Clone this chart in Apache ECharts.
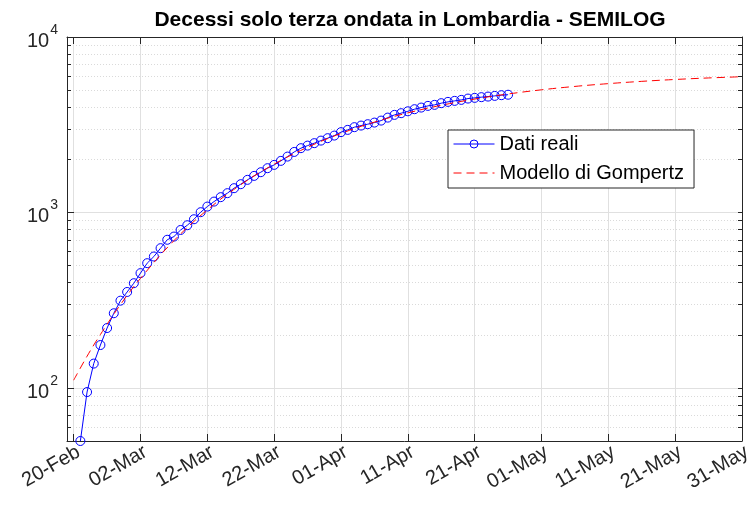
<!DOCTYPE html>
<html>
<head>
<meta charset="utf-8">
<title>Decessi solo terza ondata in Lombardia - SEMILOG</title>
<script src="https://cdn.jsdelivr.net/npm/echarts@6/dist/echarts.min.js"></script>
<style>
  html, body { margin: 0; padding: 0; background: #fff; }
  #chart { width: 755px; height: 507px; }
</style>
</head>
<body>
<div id="chart"></div>
<script>
// dati reali: decessi cumulati, un punto al giorno
const dates = [
  '2021-02-21', '2021-02-22', '2021-02-23', '2021-02-24', '2021-02-25', '2021-02-26', '2021-02-27', '2021-02-28',
  '2021-03-01', '2021-03-02', '2021-03-03', '2021-03-04', '2021-03-05', '2021-03-06', '2021-03-07', '2021-03-08',
  '2021-03-09', '2021-03-10', '2021-03-11', '2021-03-12', '2021-03-13', '2021-03-14', '2021-03-15', '2021-03-16',
  '2021-03-17', '2021-03-18', '2021-03-19', '2021-03-20', '2021-03-21', '2021-03-22', '2021-03-23', '2021-03-24',
  '2021-03-25', '2021-03-26', '2021-03-27', '2021-03-28', '2021-03-29', '2021-03-30', '2021-03-31',
  '2021-04-01', '2021-04-02', '2021-04-03', '2021-04-04', '2021-04-05', '2021-04-06', '2021-04-07', '2021-04-08',
  '2021-04-09', '2021-04-10', '2021-04-11', '2021-04-12', '2021-04-13', '2021-04-14', '2021-04-15', '2021-04-16',
  '2021-04-17', '2021-04-18', '2021-04-19', '2021-04-20', '2021-04-21', '2021-04-22', '2021-04-23', '2021-04-24',
  '2021-04-25', '2021-04-26'
];
const deaths = [
  50, 95, 138, 176, 220, 267, 315, 353,
  396, 452, 515, 562, 627, 700, 730, 796,
  847, 916, 1005, 1082, 1155, 1224, 1290, 1377,
  1451, 1536, 1618, 1698, 1790, 1869, 1970, 2084,
  2215, 2327, 2407, 2485, 2570, 2653, 2745,
  2871, 2958, 3065, 3130, 3187, 3255, 3341, 3475,
  3601, 3682, 3775, 3880, 3963, 4052, 4106, 4198,
  4270, 4327, 4384, 4460, 4501, 4543, 4578, 4620,
  4663, 4690
];

const modelDates = [
  '2021-02-20', '2021-02-22', '2021-02-24', '2021-02-27', '2021-03-02', '2021-03-07', '2021-03-12',
  '2021-03-17', '2021-03-22', '2021-03-27', '2021-04-01', '2021-04-06', '2021-04-11', '2021-04-16',
  '2021-04-21', '2021-04-26', '2021-05-01', '2021-05-06', '2021-05-11', '2021-05-16', '2021-05-21',
  '2021-05-26', '2021-05-31'
];
const modelValues = [
  111, 152, 202, 299, 422, 692, 1036,
  1441, 1887, 2355, 2823, 3275, 3697, 4084,
  4430, 4736, 5002, 5231, 5425, 5590, 5729,
  5845, 5940
];

// assi
const xTicks = [
  '2021-02-20', '2021-03-02', '2021-03-12', '2021-03-22', '2021-04-01', '2021-04-11',
  '2021-04-21', '2021-05-01', '2021-05-11', '2021-05-21', '2021-05-31'
];
const xMin = '2021-02-19';
const xMax = '2021-05-31';
const yMin = 50;
const yMax = 10000;
const yMajor = [100, 1000, 10000];
const yMinor = [60, 70, 80, 90, 200, 300, 400, 500, 600, 700, 800, 900,
  2000, 3000, 4000, 5000, 6000, 7000, 8000, 9000];

const FONT = 'Liberation Sans, Arial, Helvetica, sans-serif';
const AXIS = '#262626';

const chart = echarts.init(document.getElementById('chart'));

const logMin = Math.log10(yMin);
const logMax = Math.log10(yMax);

function yLabel(v) {
  const e = Math.log10(v);
  if (Math.abs(e - Math.round(e)) > 1e-6) return '';
  return '{b|10}{s|' + Math.round(e) + '}';
}

const option = {
  animation: false,
  backgroundColor: '#fff',
  title: {
    text: 'Decessi solo terza ondata in Lombardia - SEMILOG',
    left: 405,
    top: 5,
    textAlign: 'center',
    textStyle: { fontFamily: FONT, fontSize: 21, fontWeight: 'bold', color: '#000' }
  },
  legend: {
    orient: 'vertical',
    left: 448,
    top: 130,
    padding: [4, 10, 5, 5],
    itemGap: 9,
    itemWidth: 41,
    itemHeight: 10,
    backgroundColor: '#fff',
    borderColor: AXIS,
    borderWidth: 1,
    borderRadius: 0,
    textStyle: { fontFamily: FONT, fontSize: 20, color: '#000' },
    data: [
      {
        name: 'Dati reali',
        lineStyle: { width: 1 },
        itemStyle: { color: 'rgba(0,0,0,0)', borderColor: '#0000ff', borderWidth: 1 }
      },
      { name: 'Modello di Gompertz', lineStyle: { width: 1 }, itemStyle: { opacity: 0 } }
    ]
  },
  grid: { left: 67, right: 13, top: 37, bottom: 66, containLabel: false },
  xAxis: [
    {
      type: 'time',
      position: 'bottom',
      min: xMin,
      max: xMax,
      axisLine: { show: true, lineStyle: { color: AXIS, width: 1 } },
      axisTick: { show: true, inside: true, length: 7, customValues: xTicks, lineStyle: { color: AXIS } },
      axisLabel: {
        customValues: xTicks,
        formatter: '{dd}-{MMM}',
        rotate: 30,
        margin: 1,
        verticalAlign: 'top',
        fontFamily: FONT,
        fontSize: 20,
        color: AXIS,
        hideOverlap: false
      },
      splitLine: { show: true, lineStyle: { color: '#e0e0e0', width: 1 } }
    },
    {
      type: 'time',
      position: 'top',
      min: xMin,
      max: xMax,
      axisLine: { show: true, lineStyle: { color: AXIS, width: 1 } },
      axisTick: { show: true, inside: true, length: 7, customValues: xTicks, lineStyle: { color: AXIS } },
      axisLabel: { show: false },
      splitLine: { show: false }
    }
  ],
  yAxis: [
    {
      type: 'log',
      logBase: 10,
      position: 'left',
      min: yMin,
      max: yMax,
      axisLine: { show: true, lineStyle: { color: AXIS, width: 1 } },
      axisTick: { show: true, inside: true, length: 7, lineStyle: { color: AXIS } },
      axisLabel: {
        formatter: yLabel,
        margin: 9,
        rich: {
          b: { fontFamily: FONT, fontSize: 20, color: AXIS, verticalAlign: 'bottom' },
          s: { fontFamily: FONT, fontSize: 14, color: AXIS, verticalAlign: 'bottom', padding: [0, 0, 14, 1] }
        }
      },
      splitLine: { show: true, lineStyle: { color: '#e0e0e0', width: 1 } },
      minorTick: { show: false },
      minorSplitLine: { show: false }
    },
    {
      // griglia secondaria della scala logaritmica
      type: 'value',
      position: 'left',
      min: logMin,
      max: logMax,
      axisLine: { show: false },
      axisTick: { show: true, inside: true, length: 4, customValues: yMinor.map(Math.log10), lineStyle: { color: AXIS } },
      axisLabel: { show: false },
      splitLine: { show: true, lineStyle: { color: '#dadada', width: 1, type: [1, 2] } }
    },
    {
      type: 'value',
      position: 'right',
      min: logMin,
      max: logMax,
      axisLine: { show: true, lineStyle: { color: AXIS, width: 1 } },
      axisTick: {
        show: true, inside: true, length: 4,
        customValues: yMinor.concat(yMajor).map(Math.log10),
        lineStyle: { color: AXIS }
      },
      axisLabel: { show: false },
      splitLine: { show: false }
    }
  ],
  series: [
    {
      name: 'Dati reali',
      type: 'line',
      xAxisIndex: 0,
      yAxisIndex: 0,
      data: dates.map((d, i) => [d, deaths[i]]),
      symbol: 'circle',
      symbolSize: 9,
      showAllSymbol: true,
      lineStyle: { color: '#0000ff', width: 1 },
      itemStyle: { color: 'rgba(0,0,0,0)', borderColor: '#0000ff', borderWidth: 1 },
      z: 3
    },
    {
      name: 'Modello di Gompertz',
      type: 'line',
      xAxisIndex: 0,
      yAxisIndex: 0,
      data: modelDates.map((d, i) => [d, modelValues[i]]),
      smooth: 0.4,
      showSymbol: false,
      symbol: 'none',
      lineStyle: { color: '#ff0000', width: 1, type: [8, 5] },
      itemStyle: { color: '#ff0000' },
      z: 4
    }
  ]
};

chart.setOption(option);
</script>
</body>
</html>
